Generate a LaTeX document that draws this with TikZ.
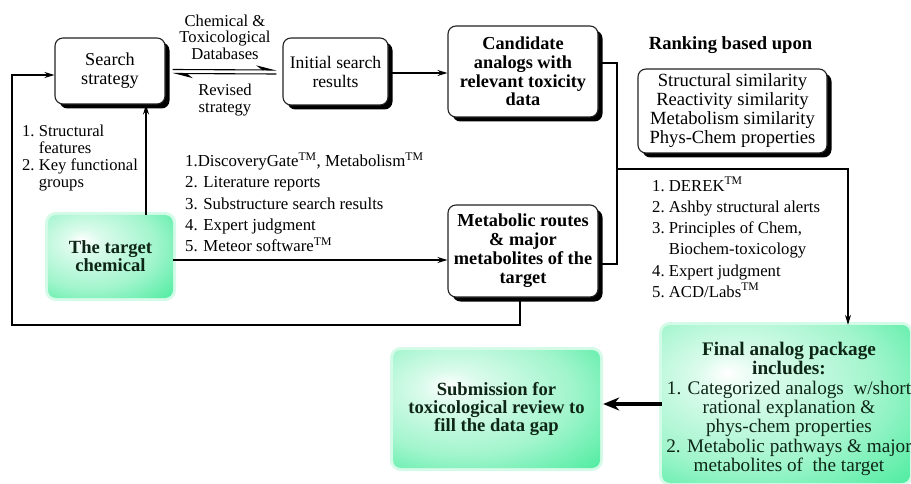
\documentclass[tikz,border=0pt]{standalone}
\usepackage{fontspec}
\setmainfont{Liberation Serif}
\usetikzlibrary{arrows.meta,shadows,calc}

\definecolor{mint}{RGB}{60,234,150}
\definecolor{glowtext}{RGB}{14,38,22}
\definecolor{edgegray}{RGB}{35,35,35}

% pale centre with a white highlight up and left, saturated rim
\pgfdeclareradialshading{mintglow}{\pgfpoint{-12bp}{10bp}}{%
  color(0bp)=(white); color(7bp)=(mint!18!white);
  color(26bp)=(mint!48!white); color(39bp)=(mint!82!white);
  color(46bp)=(mint); color(75bp)=(mint)}

\tikzset{
  every node/.style={font=\fontsize{18}{19}\selectfont},
  whitebox/.style={draw=edgegray, line width=1.1pt, rounded corners=8pt,
    fill=white, align=center, inner sep=0pt,
    drop shadow={shadow xshift=4.5pt, shadow yshift=-4.5pt, opacity=1, fill=black}},
  greenbox/.style={rounded corners=8pt, shading=mintglow, align=center,
    inner sep=0pt, text=glowtext,
    preaction={draw=mint!22!white, line width=6pt}},
  plainlabel/.style={align=center, inner sep=0pt},
  conn/.style={draw=black, line width=1.1pt},
  tip/.style={-{Stealth[length=10pt,width=6pt]}},
  halftip/.style={-{Stealth[harpoon,length=18pt,width=9pt]}},
}

\begin{document}
\begin{tikzpicture}[x=1pt, y=-1pt]
\useasboundingbox (0,0) rectangle (911,484);

% ---- boxes ----
\node[whitebox, minimum width=110pt, minimum height=66pt,
      font=\fontsize{18.2}{19}\selectfont] (search) at (110,71)
  {Search\\strategy};
\node[whitebox, minimum width=105pt, minimum height=67pt,
      font=\fontsize{17.6}{19}\selectfont] (initial) at (335.5,71.5)
  {Initial search\\results};
\node[whitebox, minimum width=150pt, minimum height=91pt,
      font=\bfseries\fontsize{18.3}{18.7}\selectfont] (candidate) at (523,71.5)
  {Candidate\\analogs with\\relevant toxicity\\data};
\node[plainlabel, font=\bfseries\fontsize{18.6}{19}\selectfont] (rankhead) at (730.5,45)
  {Ranking based upon};
\node[whitebox, minimum width=189pt, minimum height=84pt,
      font=\fontsize{18.6}{19}\selectfont] (ranking) at (732.5,111)
  {Structural similarity\\Reactivity similarity\\Metabolism similarity\\Phys-Chem properties};
\node[whitebox, minimum width=150pt, minimum height=92pt,
      font=\bfseries\fontsize{18.3}{19}\selectfont] (metabolic) at (523,251)
  {Metabolic routes\\\& major\\metabolites of the\\target};

\node[greenbox, minimum width=125pt, minimum height=83pt,
      font=\bfseries\fontsize{18.6}{18}\selectfont] (target) at (110.5,256.5)
  {The target\\chemical};
\node[greenbox, minimum width=207pt, minimum height=118pt,
      font=\bfseries\fontsize{18.6}{17.8}\selectfont] (submit) at (496.5,409)
  {Submission for\\toxicological review to\\fill the data gap};
\node[greenbox, minimum width=248pt, minimum height=158pt] (final) at (786,404) {};
\node[plainlabel, text=glowtext, font=\fontsize{19.2}{19.3}\selectfont] (finaltext) at (789,409)
  {\textbf{Final analog package}\\\textbf{includes:}\\
   1. Categorized analogs\ \ w/short\\rational explanation \&\\phys-chem properties\\
   2. Metabolic pathways \& major\\metabolites of\ \ the target};

% ---- free labels ----
\node[plainlabel, font=\fontsize{16.6}{16.5}\selectfont] (dblabel) at (225,37)
  {Chemical \&\\Toxicological\\Databases};
\node[plainlabel, font=\fontsize{16.6}{16.5}\selectfont] (revlabel) at (225,100)
  {Revised\\strategy};
\node[plainlabel, anchor=west, font=\fontsize{16.6}{17}\selectfont] (featlist) at (22,158.5)
  {\begin{tabular}{@{}l@{\ }l@{}}1. & Structural\\ & features\\2. & Key functional\\ & groups\end{tabular}};
\node[plainlabel, anchor=west, font=\fontsize{16.8}{21.3}\selectfont] (srclist) at (185,205)
  {\begin{tabular}{@{}l@{}}1.DiscoveryGate\textsuperscript{TM}, Metabolism\textsuperscript{TM}\\
   2. Literature reports\\3. Substructure search results\\4. Expert judgment\\
   5. Meteor software\textsuperscript{TM}\end{tabular}};
\node[plainlabel, anchor=west, font=\fontsize{16.7}{21.2}\selectfont] (toollist) at (652,240)
  {\begin{tabular}{@{}l@{\ }l@{}}1. & DEREK\textsuperscript{TM}\\2. & Ashby structural alerts\\
   3. & Principles of Chem,\\ & Biochem-toxicology\\4. & Expert judgment\\
   5. & ACD/Labs\textsuperscript{TM}\end{tabular}};

% ---- junction points ----
\coordinate (split) at (617,169);
\coordinate (turn) at (848,169);
\coordinate (loop) at (12,325);

% ---- connectors ----
\draw[conn, halftip] ([yshift=1.5pt,xshift=7pt]search.east)
  -- ([yshift=1.5pt,xshift=-6pt]initial.west);
\draw[conn, halftip] ([yshift=-2.5pt,xshift=-6pt]initial.west)
  -- ([yshift=-2.5pt,xshift=7pt]search.east);
\draw[conn, tip] ([yshift=-1.5pt]initial.east) -- ([yshift=-1.5pt]candidate.west);

\draw[conn] ([yshift=8.5pt]candidate.east) -| (split);
\draw[conn] ([yshift=-13pt]metabolic.east) -| (split);
\draw[conn, tip] (split) -- (turn) -- (turn |- final.north);

\draw[conn, tip] ([xshift=35.5pt]target.north) -- ([xshift=35.5pt]target.north |- search.south);
\draw[conn, tip] ([yshift=-3.5pt]target.east) -- ([yshift=-3.5pt]target.east -| metabolic.west);
\draw[conn, tip] ([xshift=-3pt]metabolic.south) |- (loop) |- ([yshift=-4pt]search.west);

\draw[line width=4pt, -{Stealth[length=16pt,width=13pt]}] (final.west)
  -- ([xshift=3pt]final.west -| submit.east);
\end{tikzpicture}
\end{document}
